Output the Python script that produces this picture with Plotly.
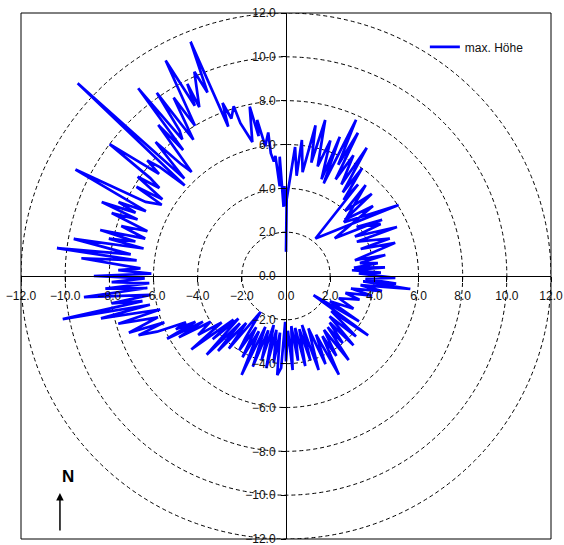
import numpy as np
import plotly.graph_objects as go

# Direction (bearing, degrees clockwise from North) and max. height values
bearing_deg = [
    0, 0.5, 4, 6, 6.6, 9, 11, 12.5, 14, 16, 18, 20, 21, 22, 24, 25, 26.5, 27, 29, 31, 32, 34, 35, 37, 38, 38,
    57.6, 47, 41, 42, 46, 46, 51, 52, 59.5, 55, 61, 60, 66, 64, 70, 70, 73, 77, 78, 80, 82, 83, 85, 85, 88, 88,
    91, 92, 94, 94, 96, 97, 99, 101, 103, 106, 108, 113, 116, 120, 122, 125, 126, 128, 131, 133, 136, 137, 140,
    141, 143.5,
    145, 148, 149, 152, 153, 156, 157, 161, 162, 164, 166, 168, 170, 172, 174, 176, 178, 180, 181, 183, 185, 186,
    188, 190, 192, 194, 196, 198, 200, 202, 204, 206, 208, 210, 212, 213, 215,
    218, 220, 222, 224, 225, 228, 229, 230, 232, 234, 236, 238.6, 240, 241, 242, 243, 244, 245,
    246.5, 248, 249, 250, 252, 254, 255, 257, 258, 259, 260, 261, 262, 264, 265, 266, 267, 268, 269, 270, 271,
    272, 273, 275, 276, 277, 278, 280, 281, 282, 283, 284, 285, 287, 288, 290, 291, 292, 293, 294, 295, 297,
    298, 300, 301, 302, 304, 305,
    306, 307, 309, 310, 311, 312, 313, 314, 316, 317, 318, 320, 321, 322, 323, 324, 325, 326, 328, 329, 331,
    332, 333, 333, 336, 337, 338, 339, 340, 341, 343, 343.5, 346, 348, 349, 349.6, 351, 353, 353, 354, 355,
    356, 357, 358, 359, 359.5,
]
max_height = [
    1.1, 3.5, 5.9, 4.6, 6.25, 4.8, 7.0, 5.3, 7.34, 5.2, 6.5, 4.7, 6.8, 4.56, 7.8, 5.6, 7.3, 4.95, 6.3, 4.87,
    6.9, 4.6, 6.0, 4.34, 5.3, 2.17,
    6.04, 3.6, 5.5, 4.0, 5.4, 3.7, 5.07, 2.8, 5.05, 3.9, 4.9, 3.6, 5.5, 3.57, 5.0, 3.6, 5.17, 3.2, 4.6, 3.4,
    4.2, 3.1, 4.5, 3.0, 4.3, 3.3, 4.95, 3.6, 5.0, 3.5, 5.66, 3.4, 4.4, 3.0, 4.0, 2.8, 3.5, 2.6, 3.4, 2.3, 3.9,
    1.52, 4.6, 2.6, 4.2, 2.7, 4.4, 2.9, 4.0, 3.0, 4.77,
    3.0, 4.3, 3.2, 5.1, 3.0, 4.4, 2.6, 4.54, 2.35, 4.0, 2.5, 4.2, 2.4, 3.9, 2.3, 4.3, 2.5, 3.9, 2.09, 4.2,
    4.54, 2.6, 4.0, 2.5, 4.3, 2.3, 4.0, 2.6, 4.4, 2.5, 4.94, 2.8, 4.2, 2.7, 4.0, 3.4, 2.0,
    4.2, 2.8, 4.6, 3.0, 5.08, 2.9, 4.4, 3.1, 5.44, 3.6, 4.8, 4.0, 5.6, 4.3, 6.1, 4.6, 5.55, 5.0,
    6.37, 7.2, 5.9, 7.57, 6.1, 7.9, 5.9, 8.6, 6.3, 10.3, 6.6, 8.0, 6.2, 9.2, 6.3, 8.2, 6.2, 7.9, 6.4, 8.7, 6.1,
    7.6, 6.6, 9.3, 6.8, 10.45, 7.1, 9.76, 6.57, 8.2, 7.0, 8.67, 6.6, 7.8, 6.6, 8.4, 7.2, 9.0, 7.4, 8.3, 7.0,
    10.7, 7.2, 6.5, 7.9, 6.6, 8.1, 7.0,
    7.6, 10.0, 7.4, 8.2, 7.57, 6.17, 12.9, 6.4, 8.5, 7.0, 6.39, 9.0, 7.4, 10.87, 7.8, 8.2, 10.2, 7.5, 9.6,
    8.0, 11.24, 8.8, 9.84, 8.65, 10.2, 9.1, 11.53, 7.3, 8.4, 7.6, 8.1, 7.27, 6.3, 7.9, 6.5, 7.24, 6.0, 6.6,
    5.65, 5.25, 5.5, 4.1, 5.45, 3.16, 4.1, 3.2,
]
circle_radii = [2, 4, 6, 8, 10, 12]
tick_values = [-12, -10, -8, -6, -4, -2, 0, 2, 4, 6, 8, 10, 12]
series_name = "max. Höhe"

theta = np.radians(np.array(bearing_deg))
r = np.array(max_height)
x = r * np.sin(theta)
y = r * np.cos(theta)

fig = go.Figure()
fig.add_trace(go.Scatter(
    x=x, y=y, mode="lines", name=series_name,
    line=dict(color="#0000FF", width=2.7),
    showlegend=True,
))

shapes = []
for rad in circle_radii:
    shapes.append(dict(type="circle", xref="x", yref="y", x0=-rad, y0=-rad, x1=rad, y1=rad,
                       line=dict(color="black", width=1, dash="4px,3px"), layer="below"))
shapes.append(dict(type="rect", xref="paper", yref="paper", x0=0, y0=0, x1=1, y1=1,
                   line=dict(color="black", width=1), layer="above"))
fig.update_layout(shapes=shapes)

font_family = "Liberation Sans, Arial, sans-serif"
axis_common = dict(
    range=[-12, 12], tickvals=tick_values, tickformat=".1f",
    showgrid=False, zeroline=False, showline=True, linecolor="black", linewidth=1,
    ticks="outside", ticklen=5, tickcolor="black", tickwidth=1,
    tickfont=dict(family=font_family, size=12, color="#111"),
    ticklabeloverflow="allow",
    anchor="free", position=0.5, fixedrange=True,
)
fig.update_xaxes(**axis_common, ticklabelstandoff=4)
fig.update_yaxes(**axis_common, ticklabelstandoff=3)

fig.add_annotation(x=0.073, y=0.118, xref="paper", yref="paper", text="<b>N</b>",
                   showarrow=False, yanchor="middle",
                   font=dict(family=font_family, size=17, color="black"))
fig.add_annotation(x=0.0735, y=0.0875, xref="paper", yref="paper", text="",
                   showarrow=True, ax=0, ay=39, arrowhead=2, arrowsize=1, arrowwidth=1.5,
                   arrowcolor="black")

fig.update_layout(
    width=564, height=545,
    margin=dict(l=21, r=13, t=13, b=6, pad=0),
    paper_bgcolor="white", plot_bgcolor="white",
    template="none",
    legend=dict(x=0.762, y=0.963, xanchor="left", yanchor="top",
                bgcolor="rgba(0,0,0,0)", borderwidth=0,
                font=dict(family=font_family, size=12, color="#111")),
)

fig.write_html("out.html")
